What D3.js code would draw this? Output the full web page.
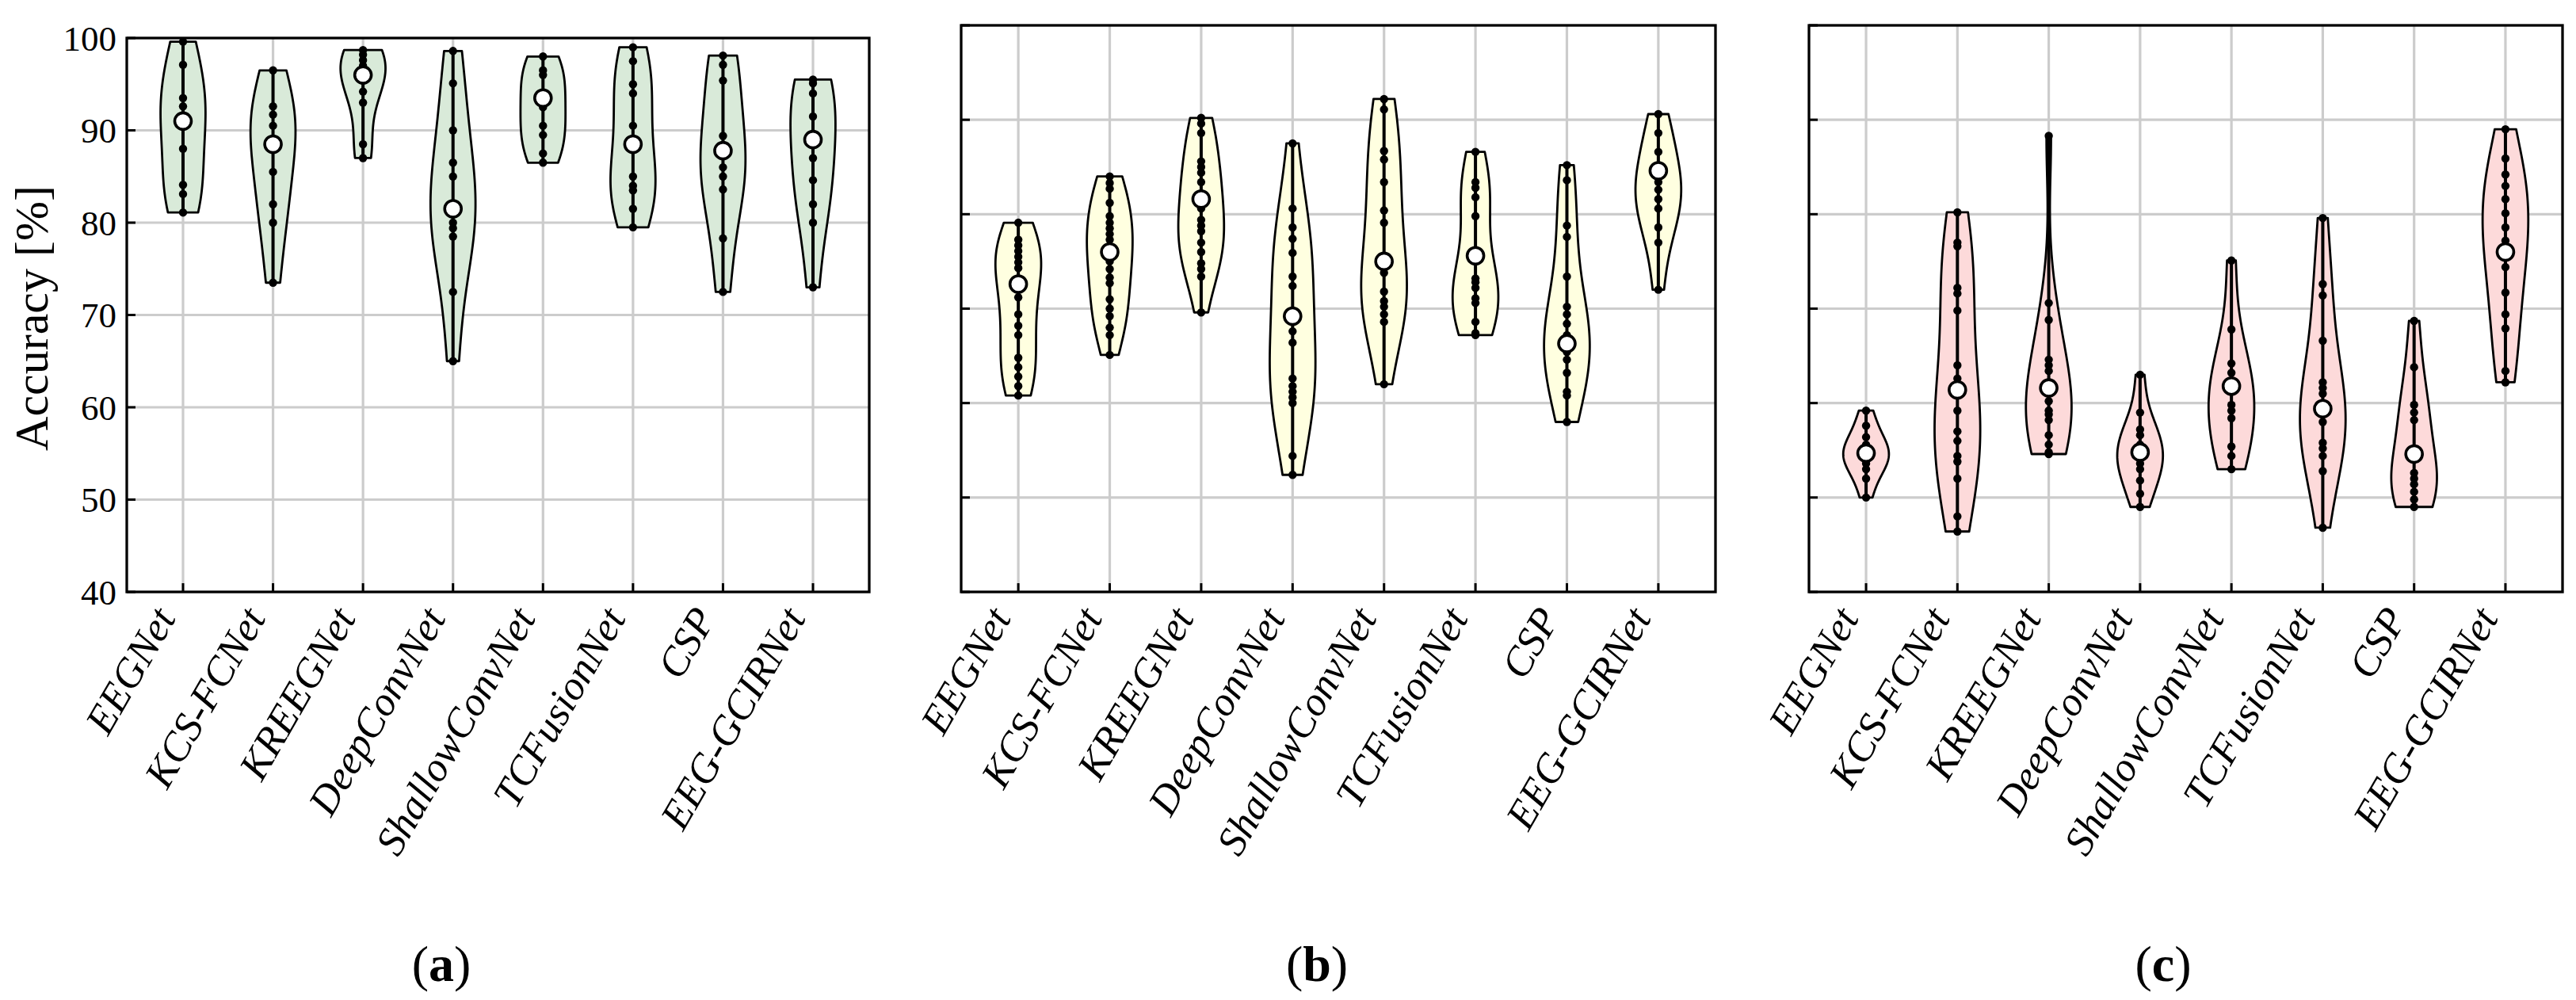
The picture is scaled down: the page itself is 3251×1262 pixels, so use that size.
<!DOCTYPE html>
<html>
<head>
<meta charset="utf-8">
<script src="https://cdn.jsdelivr.net/npm/d3@7"></script>
<style>
  body { margin: 0; background: #fff; }
  text { font-family: "Liberation Serif", "DejaVu Serif", serif; fill: #000; }
</style>
</head>
<body>
<div id="chart"></div>
<script>
const width = 3251;
const height = 1262;

const models = ["EEGNet", "KCS-FCNet", "KREEGNet", "DeepConvNet", "ShallowConvNet", "TCFusionNet", "CSP", "EEG-GCIRNet"];
const yTicks = [40, 50, 60, 70, 80, 90, 100];

// per-subject accuracies, one list per model
const accA = [
    [99.6, 97.1, 93.5, 92.6, 91.0, 88.0, 84.1, 83.1, 81.1],
    [96.5, 92.6, 91.7, 90.5, 88.5, 85.5, 82.0, 80.0, 73.5],
    [98.7, 98.2, 97.6, 97.0, 96.0, 94.2, 93.0, 88.5, 87.0],
    [98.6, 95.1, 90.0, 86.5, 85.0, 81.5, 80.0, 79.4, 78.5, 72.5, 65.0],
    [98.0, 96.5, 96.0, 93.5, 92.5, 90.5, 89.5, 87.5, 86.5],
    [99.0, 97.5, 95.0, 94.0, 90.5, 88.5, 85.0, 84.0, 83.5, 81.5, 79.5],
    [98.1, 97.1, 95.4, 89.4, 87.8, 86.0, 85.0, 83.6, 78.3, 72.5],
    [95.5, 95.1, 94.0, 91.5, 89.0, 87.0, 84.6, 82.0, 80.0, 73.0]
];
const accB = [
    [79.1, 77.3, 76.7, 76.1, 75.5, 74.9, 74.3, 72.6, 71.2, 69.4, 68.2, 67.2, 64.8, 63.8, 62.8, 61.8, 60.8],
    [84.0, 83.3, 82.7, 81.2, 79.8, 79.1, 78.5, 77.9, 77.3, 76.0, 75.0, 74.2, 73.3, 72.7, 71.0, 70.0, 69.2, 68.0, 67.2, 65.1],
    [90.2, 89.6, 88.6, 85.6, 85.0, 84.4, 83.4, 81.6, 80.6, 79.4, 78.8, 78.2, 77.0, 76.0, 74.8, 74.2, 73.4, 69.6],
    [87.5, 80.6, 78.6, 77.4, 75.9, 73.4, 72.4, 69.2, 67.6, 66.4, 62.6, 61.8, 61.2, 60.6, 60.0, 54.4, 52.4],
    [92.2, 91.1, 86.7, 85.8, 83.4, 80.4, 79.1, 75.0, 73.8, 71.8, 70.8, 70.2, 69.4, 68.6, 62.0],
    [86.6, 83.4, 82.8, 81.8, 79.8, 75.6, 73.2, 72.8, 72.2, 71.1, 70.6, 68.6, 67.4, 67.2],
    [85.2, 83.6, 78.8, 77.6, 73.4, 70.2, 69.4, 68.4, 67.2, 66.3, 65.4, 64.6, 63.2, 61.2, 60.8, 58.0],
    [90.6, 88.6, 86.6, 84.6, 83.4, 82.6, 81.6, 80.6, 78.6, 77.0, 72.0]
];
const accC = [
    [59.2, 57.6, 56.4, 55.6, 55.0, 54.7, 54.3, 53.6, 53.0, 52.0, 50.0],
    [80.2, 77.0, 76.6, 72.2, 71.6, 69.8, 64.0, 62.6, 61.4, 59.2, 57.0, 56.0, 54.4, 53.8, 52.0, 48.0, 46.4],
    [88.3, 70.6, 68.8, 64.6, 64.0, 63.4, 61.6, 60.2, 59.2, 58.8, 58.2, 56.6, 55.6, 54.8, 54.6],
    [63.0, 59.0, 57.2, 56.6, 55.6, 54.8, 54.2, 53.6, 53.0, 51.8, 50.4, 49.0],
    [75.1, 67.8, 64.2, 63.2, 61.8, 59.8, 59.2, 58.4, 55.4, 54.4, 53.0],
    [79.6, 72.6, 71.4, 66.6, 62.2, 61.6, 61.0, 59.4, 58.0, 55.8, 55.2, 54.4, 52.8, 46.8],
    [68.7, 63.8, 59.8, 59.0, 58.2, 54.6, 52.6, 52.0, 51.4, 50.6, 49.8, 49.0],
    [89.0, 85.9, 84.2, 83.0, 81.6, 80.1, 78.6, 77.2, 76.0, 74.4, 71.7, 69.4, 67.9, 63.4, 62.2]
];
// white markers (medians) as drawn
const medA = [91.0, 88.5, 96.0, 81.5, 93.5, 88.5, 87.8, 89.0];
const medB = [72.6, 76.0, 81.6, 69.2, 75.0, 75.6, 66.3, 84.6];
const medC = [54.7, 61.4, 61.6, 54.8, 61.8, 59.4, 54.6, 76.0];

const panels = [
    {acc: accA, med: medA, fill: "#d9ead9", left: 160, right: 1097, top: 48, bottom: 747, yLabels: true, tag: "a", capX: 557},
    {acc: accB, med: medB, fill: "#ffffe0", left: 1213, right: 2165, top: 32, bottom: 747, yLabels: false, tag: "b", capX: 1662},
    {acc: accC, med: medC, fill: "#fddada", left: 2283, right: 3234, top: 32, bottom: 747, yLabels: false, tag: "c", capX: 2730}
];

const svg = d3.select("#chart").append("svg")
    .attr("width", width)
    .attr("height", height)
    .attr("viewBox", `0 0 ${width} ${height}`);

svg.append("rect").attr("width", width).attr("height", height).attr("fill", "#fff");

// gaussian kde, scott bandwidth, cut at the data range (like matplotlib violinplot)
function violinShape(values) {
    const n = values.length;
    const bw = d3.deviation(values) * Math.pow(n, -1 / 5);
    const lo = d3.min(values), hi = d3.max(values);
    const pts = d3.range(100).map(i => lo + (hi - lo) * i / 99);
    const dens = pts.map(p => d3.sum(values, v => Math.exp(-0.5 * ((p - v) / bw) ** 2)));
    const mx = d3.max(dens);
    return pts.map((p, i) => [p, 0.25 * dens[i] / mx]);
}

panels.forEach(p => {
    const x = d3.scaleLinear().domain([0.375, 8.625]).range([p.left, p.right]);
    const y = d3.scaleLinear().domain([40, 100]).range([p.bottom, p.top]);
    const g = svg.append("g");

    // grid
    g.selectAll("line.hgrid").data(yTicks.slice(1, -1)).join("line")
        .attr("x1", p.left).attr("x2", p.right)
        .attr("y1", d => y(d)).attr("y2", d => y(d))
        .attr("stroke", "#cccccc").attr("stroke-width", 3.2);
    g.selectAll("line.vgrid").data(models).join("line")
        .attr("x1", (d, i) => x(i + 1)).attr("x2", (d, i) => x(i + 1))
        .attr("y1", p.top).attr("y2", p.bottom)
        .attr("stroke", "#cccccc").attr("stroke-width", 3.2);

    // violins
    p.acc.forEach((vals, i) => {
        const pos = i + 1;
        const shape = violinShape(vals);
        const area = d3.area()
            .x0(d => x(pos - d[1]))
            .x1(d => x(pos + d[1]))
            .y(d => y(d[0]));
        g.append("path")
            .attr("d", area(shape) + "Z")
            .attr("fill", p.fill)
            .attr("stroke", "#000")
            .attr("stroke-width", 2.8)
            .attr("stroke-linejoin", "round");

        g.append("line")
            .attr("x1", x(pos)).attr("x2", x(pos))
            .attr("y1", y(d3.min(vals))).attr("y2", y(d3.max(vals)))
            .attr("stroke", "#000").attr("stroke-width", 4);

        g.selectAll(null).data(vals).join("circle")
            .attr("cx", x(pos))
            .attr("cy", d => y(d))
            .attr("r", 5.2)
            .attr("fill", "#000");

        g.append("circle")
            .attr("cx", x(pos))
            .attr("cy", y(p.med[i]))
            .attr("r", 10.5)
            .attr("fill", "#fff")
            .attr("stroke", "#000")
            .attr("stroke-width", 3.6);
    });

    // inward ticks
    g.selectAll("line.ytick").data(yTicks).join("line")
        .attr("x1", p.left).attr("x2", p.left + 11)
        .attr("y1", d => y(d)).attr("y2", d => y(d))
        .attr("stroke", "#000").attr("stroke-width", 3);
    g.selectAll("line.xtick").data(models).join("line")
        .attr("x1", (d, i) => x(i + 1)).attr("x2", (d, i) => x(i + 1))
        .attr("y1", p.bottom).attr("y2", p.bottom - 11)
        .attr("stroke", "#000").attr("stroke-width", 3);

    // frame
    g.append("rect")
        .attr("x", p.left).attr("y", p.top)
        .attr("width", p.right - p.left).attr("height", p.bottom - p.top)
        .attr("fill", "none").attr("stroke", "#000").attr("stroke-width", 3.3);

    if (p.yLabels) {
        g.selectAll("text.ylab").data(yTicks).join("text")
            .attr("x", p.left - 13)
            .attr("y", d => y(d))
            .attr("dy", "0.35em")
            .attr("text-anchor", "end")
            .style("font-size", "45px")
            .text(d => d);
        g.append("text")
            .attr("transform", `translate(60,${(p.top + p.bottom) / 2 + 4}) rotate(-90)`)
            .attr("text-anchor", "middle")
            .style("font-size", "60px")
            .text("Accuracy [%]");
    }

    g.selectAll("text.xlab").data(models).join("text")
        .attr("transform", (d, i) => `translate(${x(i + 1) - 8},${p.bottom + 33}) rotate(-60)`)
        .attr("text-anchor", "end")
        .style("font-size", "52px")
        .style("font-style", "italic")
        .text(d => d);

    const cap = svg.append("text")
        .attr("x", p.capX)
        .attr("y", 1238)
        .attr("text-anchor", "middle")
        .style("font-size", "64px");
    cap.append("tspan").text("(");
    cap.append("tspan").style("font-weight", "bold").text(p.tag);
    cap.append("tspan").text(")");
});
</script>
</body>
</html>
